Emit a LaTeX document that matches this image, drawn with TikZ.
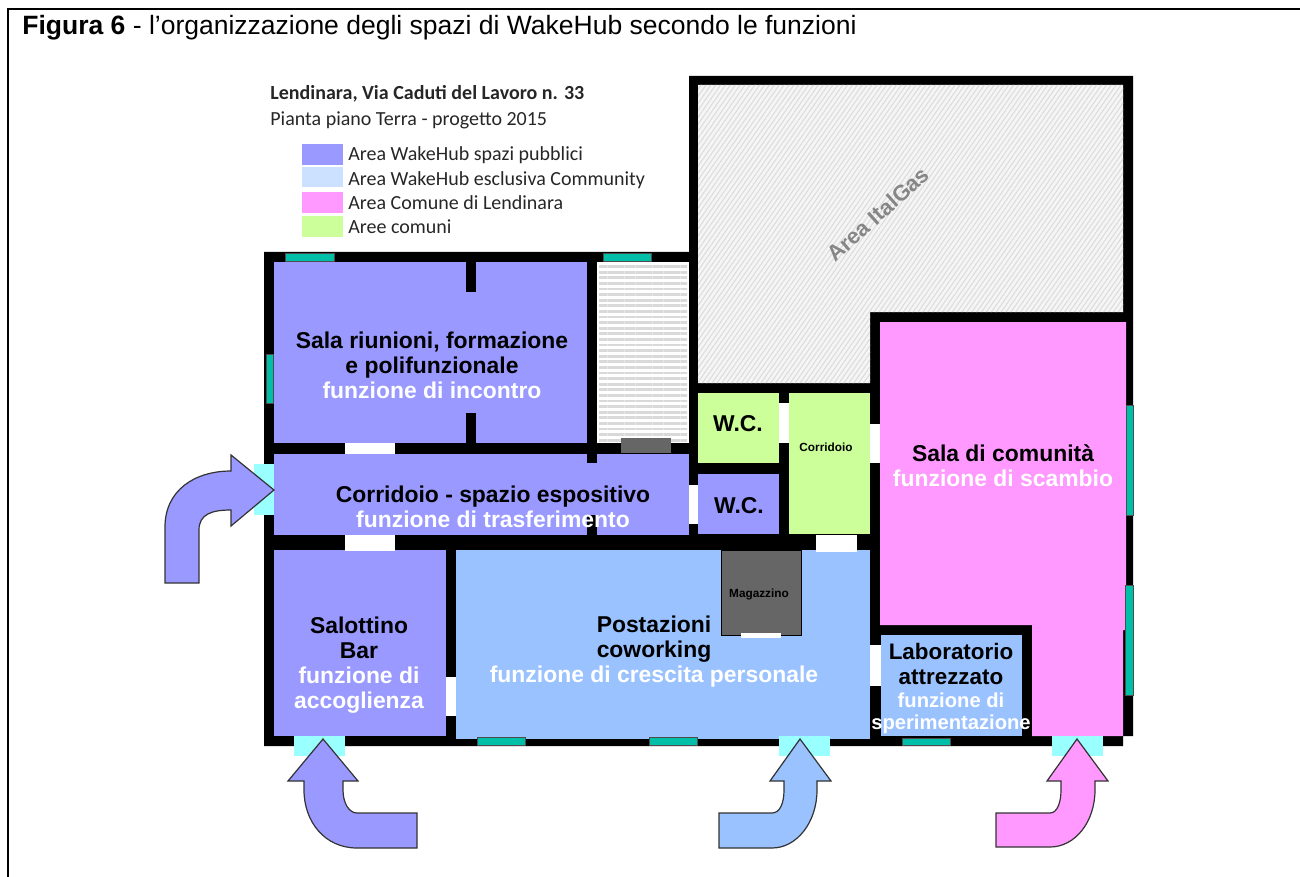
\documentclass[tikz,border=0pt]{standalone}
\usepackage{fontspec}
\setmainfont{Liberation Sans}
\newfontfamily\legendfont{Carlito}
\usetikzlibrary{patterns.meta}
\definecolor{pubblico}{HTML}{9999FF}
\definecolor{community}{HTML}{99C2FF}
\definecolor{communitylight}{HTML}{CCE0FF}
\definecolor{comune}{HTML}{FF99FF}
\definecolor{comuni}{HTML}{CCFF99}
\definecolor{vetro}{HTML}{00BFA8}
\definecolor{ingresso}{HTML}{99FFFF}
\definecolor{magazzino}{HTML}{666666}
\begin{document}
\begin{tikzpicture}[x=0.5pt,y=-0.5pt]
\tikzstyle{wall}=[fill=black]
\tikzstyle{door}=[fill=white]
\tikzstyle{entry}=[fill=ingresso]
\tikzstyle{window}=[fill=vetro,draw=black!70,line width=0.3pt]
\tikzstyle{arrowshape}=[draw=black!80,line width=0.6pt,line join=miter]
\tikzstyle{label}=[align=center,inner sep=0pt,font=\fontsize{11.45}{12.5}\selectfont\bfseries]
\tikzstyle{small}=[align=center,inner sep=0pt,font=\fontsize{5.9}{7}\selectfont\bfseries]
\tikzstyle{legendbox}=[inner sep=0pt,anchor=base west,font=\legendfont\fontsize{10}{12}\selectfont,text=black!85]
\useasboundingbox (0,0) rectangle (1300,877);
% frame
\fill[black] (7,8) rectangle (1300,10);
\fill[black] (7,8) rectangle (9,877);
\node[inner sep=0pt,anchor=base west,font=\fontsize{13.25}{15}\selectfont] (caption) at (22,35) {\textbf{Figura 6} - l’organizzazione degli spazi di WakeHub secondo le funzioni};
% title and legend
\node[legendbox,font=\legendfont\bfseries\fontsize{10}{12}\selectfont] (title) at (270,100) {Lendinara, Via Caduti del Lavoro n. 33};
\node[legendbox] (subtitle) at (270,126) {Pianta piano Terra - progetto 2015};
\fill[pubblico] (302,144) rectangle (343,165);
\fill[communitylight] (302,167) rectangle (343,187);
\fill[comune] (302,192) rectangle (343,213);
\fill[comuni] (302,216) rectangle (343,237);
\node[legendbox] (leg1) at (348,161) {Area WakeHub spazi pubblici};
\node[legendbox] (leg2) at (348,186) {Area WakeHub esclusiva Community};
\node[legendbox] (leg3) at (348,210) {Area Comune di Lendinara};
\node[legendbox] (leg4) at (348,234) {Aree comuni};
% walls
\fill[wall] (264,252) -- (689,252) -- (689,76) -- (1133,76) -- (1133,736) -- (1123,736) -- (1123,746) -- (264,746) -- cycle;
% hatched areas
\fill[gray!8] (698,85) -- (1123,85) -- (1123,312) -- (870,312) -- (870,383) -- (698,383) -- cycle;
\fill[pattern={Lines[angle=55,distance=2pt,line width=0.5pt]},pattern color=gray!28] (698,85) -- (1123,85) -- (1123,312) -- (870,312) -- (870,383) -- (698,383) -- cycle;
\fill[white] (597,262) rectangle (689,443);
\fill[pattern={Lines[angle=0,distance=2.8pt,line width=1.4pt]},pattern color=gray!30] (599,264) rectangle (687,441);
% rooms
\fill[pubblico] (274,262) rectangle (466,443);
\fill[pubblico] (476,262) rectangle (587,443);
\fill[pubblico] (466,292) rectangle (476,413);
\fill[pubblico] (274,454) rectangle (689,535);
\fill[black] (587,454) rectangle (597,463);
\fill[black] (587,515) rectangle (597,535);
\fill[pubblico] (274,550) rectangle (446,736);
\fill[community] (456,550) rectangle (870,739);
\fill[comuni] (698,393) rectangle (779,463);
\fill[pubblico] (698,474) rectangle (779,534);
\fill[comuni] (789,393) rectangle (870,534);
\fill[comune] (880,322) -- (1126,322) -- (1126,630) -- (1123,630) -- (1123,736) -- (1032,736) -- (1032,625) -- (880,625) -- cycle;
\fill[community] (881,635) rectangle (1022,736);
% storage
\draw[fill=magazzino,line width=0.4pt] (721,550) rectangle (801,635);
\fill[door] (741,633) rectangle (781,638);
\fill[magazzino] (621,438) rectangle (671,453);
% doors
\fill[door] (345,443) rectangle (395,454);
\fill[door] (345,535) rectangle (395,551);
\fill[door] (446,677) rectangle (456,716);
\fill[door] (689,485) rectangle (698,524);
\fill[door] (779,403) rectangle (789,443);
\fill[door] (870,424) rectangle (880,463);
\fill[door] (816,535) rectangle (857,552);
\fill[door] (870,645) rectangle (881,686);
% entrances
\fill[entry] (254,464) rectangle (274,515);
\fill[entry] (294,736) rectangle (345,756);
\fill[entry] (779,736) rectangle (830,756);
\fill[entry] (1052,736) rectangle (1103,756);
% windows
\draw[window] (285,253) rectangle (334,261);
\draw[window] (603,253) rectangle (651,261);
\draw[window] (266,354) rectangle (273,403);
\draw[window] (477,737) rectangle (525,745);
\draw[window] (649,737) rectangle (697,745);
\draw[window] (902,738) rectangle (950,745);
\draw[window] (1126,405) rectangle (1133,515);
\draw[window] (1125,585) rectangle (1133,695);
% arrows
\draw[arrowshape,fill=pubblico] (274,490) -- (231,526) -- (231,510) .. controls (212,510) and (199,514) .. (199,530) -- (199,583) -- (165,583) -- (165,527) .. controls (165,490) and (195,471) .. (231,471) -- (231,455) -- cycle;
\draw[arrowshape,fill=pubblico] (323,739) -- (358,781) -- (343,781) -- (343,790) .. controls (343,803) and (349,813) .. (357,813) -- (417,813) -- (417,848) -- (357,848) .. controls (325,848) and (304,822) .. (304,790) -- (304,781) -- (288,781) -- cycle;
\draw[arrowshape,fill=community] (800,739) -- (831,781) -- (817,781) -- (817,790) .. controls (817,822) and (797,848) .. (772,848) -- (719,848) -- (719,813) -- (772,813) .. controls (780,813) and (784,803) .. (784,790) -- (784,781) -- (770,781) -- cycle;
\draw[arrowshape,fill=comune] (1077,739) -- (1108,781) -- (1095,781) -- (1095,790) .. controls (1095,822) and (1075,847) .. (1050,847) -- (996,847) -- (996,813) -- (1050,813) .. controls (1057,813) and (1061,803) .. (1061,790) -- (1061,781) -- (1047,781) -- cycle;
% room labels
\node[label] (riunioni) at (432,365) {Sala riunioni, formazione\\e polifunzionale\\\textcolor{white}{funzione di incontro}};
\node[label] (corridoio) at (493,507) {Corridoio - spazio espositivo\\\textcolor{white}{funzione di trasferimento}};
\node[label] (salottino) at (359,665) {Salottino\\Bar\\\textcolor{white}{funzione di}\\\textcolor{white}{accoglienza}};
\node[label] (postazioni) at (654,652) {Postazioni\\coworking\\\textcolor{white}{funzione di crescita personale}};
\node[label,font=\fontsize{11.2}{12.2}\selectfont\bfseries] (laboratorio) at (951,664) {Laboratorio\\attrezzato};
\node[label,font=\fontsize{10.1}{11}\selectfont\bfseries,text=white] (sperimentazione) at (951,713) {funzione di\\sperimentazione};
\node[label] (comunita) at (1003,466) {Sala di comunità\\\textcolor{white}{funzione di scambio}};
\node[label] (wc1) at (738,424) {W.C.};
\node[label] (wc2) at (739,506) {W.C.};
\node[small] (corr2) at (826,447) {Corridoio};
\node[small] (mag) at (759,594) {Magazzino};
\node[label,font=\fontsize{11}{12}\selectfont\bfseries,text=gray!95!white,rotate=42] (italgas) at (878,214) {Area ItalGas};
\end{tikzpicture}
\end{document}
